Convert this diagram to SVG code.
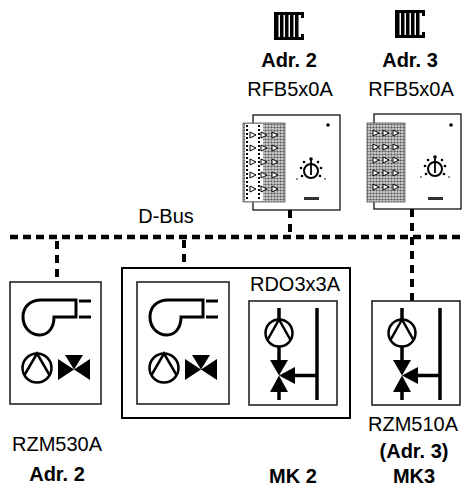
<svg xmlns="http://www.w3.org/2000/svg" width="462" height="488" viewBox="0 0 462 488">
  <style>
    .lbl { font-family: "Liberation Sans", Arial, sans-serif; font-size: 20px; fill: #000; }
    .b { font-weight: bold; }
    .box { fill: #fff; stroke: #222; stroke-width: 1.6; }
    .dev { fill: #fff; stroke: #000; stroke-width: 1.2; }
    .sym { fill: none; stroke: #000; stroke-width: 3; }
    .bus { fill: none; stroke: #000; stroke-width: 4.5; stroke-dasharray: 8 5; }
    .drop { fill: none; stroke: #000; stroke-width: 4; stroke-dasharray: 8 6; }
  </style>
  <defs>
    <pattern id="stipple" width="3" height="3" patternUnits="userSpaceOnUse">
      <rect width="3" height="3" fill="#d0d0d0"/>
      <circle cx="1.5" cy="1.5" r="1.1" fill="#555"/>
    </pattern>
    <!-- radiator glyph -->
    <g id="radiator">
      <rect x="0" y="0" width="30" height="3" fill="#000"/>
      <rect x="0" y="25" width="30" height="3" fill="#000"/>
      <rect x="27" y="0" width="3" height="6" fill="#000"/>
      <rect x="27" y="22" width="3" height="6" fill="#000"/>
      <rect x="0" y="0" width="4.5" height="28" fill="#000"/>
      <rect x="6" y="0" width="3.5" height="28" fill="#000"/>
      <rect x="11" y="0" width="3.5" height="28" fill="#000"/>
      <rect x="16" y="0" width="3.5" height="28" fill="#000"/>
      <rect x="21" y="0" width="3.5" height="28" fill="#000"/>
    </g>
    <!-- room unit button -->
    <path id="btn" d="M-3,-3 L3,0 L-3,3 Z" fill="#fff" stroke="#000" stroke-width="1"/>
    <!-- setpoint knob -->
    <g id="knob">
      <circle r="7" fill="#fff" stroke="#000" stroke-width="2"/>
      <line x1="0" y1="-12" x2="0" y2="4" stroke="#000" stroke-width="1.8"/>
      <circle cx="0" cy="-12" r="1.8" fill="#000"/>
      <circle cx="-10" cy="-3" r="1.3" fill="#000"/>
      <circle cx="10" cy="-3" r="1.3" fill="#000"/>
      <circle cx="-7" cy="-9" r="1.3" fill="#000"/>
      <circle cx="7" cy="-9" r="1.3" fill="#000"/>
      <circle cx="-9" cy="5" r="1.3" fill="#000"/>
      <circle cx="9" cy="5" r="1.3" fill="#000"/>
      <circle cx="-14" cy="8" r="0.8" fill="#000"/>
      <circle cx="14" cy="8" r="0.8" fill="#000"/>
    </g>
    <!-- boiler / pump / 3-way valve panel -->
    <g id="heatgen">
      <path class="sym" d="M31,18 H66 V35 H44 C44,46 38,53 30,53 C20,53 13,45 13,35 C13,24 21,18 31,18 Z"/>
      <line x1="69" y1="19" x2="81" y2="19" stroke="#000" stroke-width="3"/>
      <line x1="69" y1="35" x2="81" y2="35" stroke="#000" stroke-width="3"/>
      <circle cx="27" cy="86" r="14.5" fill="none" stroke="#000" stroke-width="2.5"/>
      <polyline points="14.5,93 27,71.5 39.5,93" fill="none" stroke="#000" stroke-width="2.5"/>
      <path d="M48,77 L48,98 L64,87.5 Z M80,77 L80,98 L64,87.5 Z M55,73 L73,73 L64,87.5 Z" fill="#000"/>
    </g>
    <!-- mixing circuit: pump, mixing valve, flow line -->
    <g id="mixer">
      <line x1="30" y1="7" x2="30" y2="19" stroke="#000" stroke-width="3.5"/>
      <circle cx="30" cy="32" r="13.5" fill="none" stroke="#000" stroke-width="2.5"/>
      <polyline points="18.5,39 30,18.5 41.5,39" fill="none" stroke="#000" stroke-width="2.5"/>
      <line x1="30" y1="45" x2="30" y2="60" stroke="#000" stroke-width="3.5"/>
      <path d="M21,59 L39,59 L30,74.5 Z M21,91 L39,91 L30,74.5 Z M30,74.5 L46,66 L46,83 Z" fill="#000"/>
      <line x1="30" y1="90" x2="30" y2="99" stroke="#000" stroke-width="3.5"/>
      <line x1="46" y1="74.5" x2="68" y2="74.5" stroke="#000" stroke-width="3.5"/>
      <line x1="68" y1="7" x2="68" y2="99" stroke="#000" stroke-width="3.5"/>
    </g>
  </defs>

  <rect width="462" height="488" fill="#fff"/>

  <!-- bus wiring -->
  <g id="connectors">
    <line class="bus" x1="10" y1="237" x2="462" y2="237"/>
    <line class="drop" x1="57" y1="241" x2="57" y2="282"/>
    <line class="drop" x1="184" y1="240" x2="184" y2="268"/>
    <line class="drop" x1="290" y1="210" x2="290" y2="236"/>
    <line class="drop" x1="412" y1="209" x2="412" y2="301"/>
  </g>
  <text class="lbl" x="166" y="223" text-anchor="middle">D-Bus</text>

  <!-- room unit, address 2 -->
  <g id="rfb-adr2">
    <use href="#radiator" x="274" y="12"/>
    <text class="lbl b" x="289" y="67" text-anchor="middle">Adr. 2</text>
    <text class="lbl" x="290" y="96" text-anchor="middle">RFB5x0A</text>
    <rect class="dev" x="253" y="115" width="87" height="95"/>
    <rect x="243" y="123" width="42" height="79" fill="url(#stipple)" stroke="#555" stroke-width="0.8"/>
    <rect x="245" y="124" width="18" height="77" fill="#fff"/>
    <line x1="247" y1="125" x2="247" y2="200" stroke="#000" stroke-width="2" stroke-dasharray="2 2"/>
    <line x1="259" y1="125" x2="259" y2="200" stroke="#000" stroke-width="2" stroke-dasharray="2 2"/>
    <g>
      <use href="#btn" x="253" y="135"/><use href="#btn" x="264" y="135"/><use href="#btn" x="275" y="135"/>
      <use href="#btn" x="253" y="148"/><use href="#btn" x="264" y="148"/><use href="#btn" x="275" y="148"/>
      <use href="#btn" x="253" y="162"/><use href="#btn" x="264" y="162"/><use href="#btn" x="275" y="162"/>
      <use href="#btn" x="253" y="175"/><use href="#btn" x="264" y="175"/><use href="#btn" x="275" y="175"/>
      <use href="#btn" x="253" y="189"/><use href="#btn" x="264" y="189"/><use href="#btn" x="275" y="189"/>
    </g>
    <circle cx="328" cy="125" r="1.8" fill="#000"/>
    <use href="#knob" x="311" y="171"/>
    <rect x="304" y="197" width="15" height="3" fill="#333"/>
  </g>

  <!-- room unit, address 3 -->
  <g id="rfb-adr3">
    <use href="#radiator" x="395" y="10"/>
    <text class="lbl b" x="410" y="67" text-anchor="middle">Adr. 3</text>
    <text class="lbl" x="411" y="96" text-anchor="middle">RFB5x0A</text>
    <rect class="dev" x="374" y="114" width="87" height="95"/>
    <rect x="367" y="123" width="38" height="79" fill="url(#stipple)" stroke="#555" stroke-width="0.8"/>
    <g>
      <use href="#btn" x="376" y="133"/><use href="#btn" x="386" y="133"/><use href="#btn" x="396" y="133"/>
      <use href="#btn" x="376" y="147"/><use href="#btn" x="386" y="147"/><use href="#btn" x="396" y="147"/>
      <use href="#btn" x="376" y="160"/><use href="#btn" x="386" y="160"/><use href="#btn" x="396" y="160"/>
      <use href="#btn" x="376" y="173"/><use href="#btn" x="386" y="173"/><use href="#btn" x="396" y="173"/>
      <use href="#btn" x="376" y="187"/><use href="#btn" x="386" y="187"/><use href="#btn" x="396" y="187"/>
    </g>
    <circle cx="451" cy="125" r="1.8" fill="#000"/>
    <use href="#knob" x="435" y="169"/>
    <rect x="428" y="197" width="15" height="3" fill="#333"/>
  </g>

  <!-- heat generator module RZM530A -->
  <g id="rzm530a">
    <rect class="box" x="10" y="282" width="91" height="122"/>
    <use href="#heatgen" x="10" y="282"/>
    <text class="lbl" x="57" y="451" text-anchor="middle">RZM530A</text>
    <text class="lbl b" x="57" y="481" text-anchor="middle">Adr. 2</text>
  </g>

  <!-- controller RDO3x3A -->
  <g id="rdo3x3a">
    <rect fill="#fff" stroke="#000" stroke-width="2" x="122" y="268" width="228" height="150"/>
    <text class="lbl" x="295" y="291" text-anchor="middle">RDO3x3A</text>
    <rect class="box" x="137" y="282" width="92" height="122"/>
    <use href="#heatgen" x="137" y="282"/>
    <rect class="box" x="249" y="301" width="88" height="104"/>
    <use href="#mixer" x="249" y="301"/>
    <text class="lbl b" x="293" y="483" text-anchor="middle">MK 2</text>
  </g>

  <!-- mixing circuit module RZM510A -->
  <g id="rzm510a">
    <rect class="box" x="372" y="301" width="88" height="104"/>
    <use href="#mixer" x="372" y="301"/>
    <text class="lbl" x="413" y="431" text-anchor="middle">RZM510A</text>
    <text class="lbl b" x="414" y="458" text-anchor="middle">(Adr. 3)</text>
    <text class="lbl b" x="414" y="483" text-anchor="middle">MK3</text>
  </g>
</svg>
